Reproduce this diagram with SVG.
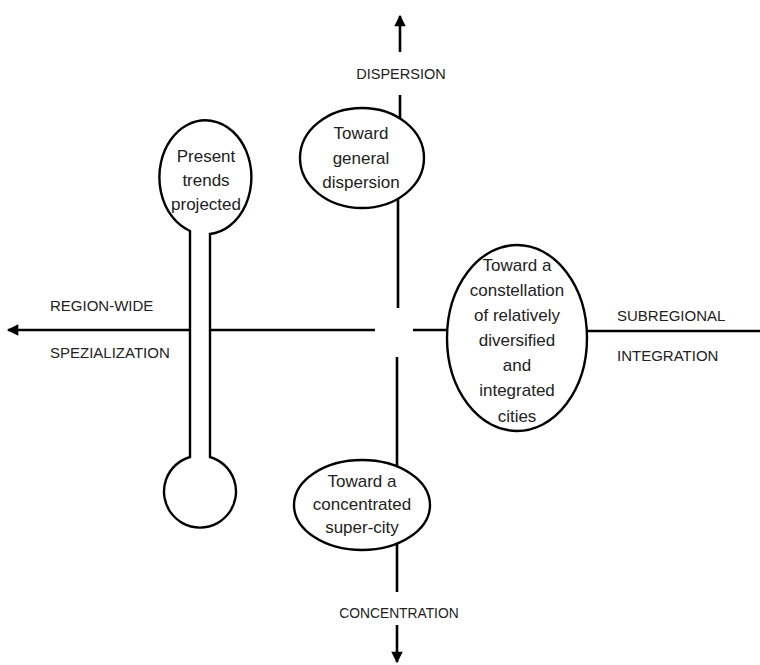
<svg xmlns="http://www.w3.org/2000/svg" width="760" height="665" viewBox="0 0 760 665">
<defs>
<marker id="ah" viewBox="0 0 10 10" refX="9" refY="5" markerWidth="5" markerHeight="4.4" orient="auto" markerUnits="strokeWidth">
<path d="M0,0 L10,5 L0,10 z" fill="#000"/>
</marker>
<style>
.ln{stroke:#000;stroke-width:2.6;fill:none}
.nd{stroke:#000;stroke-width:2.4;fill:#fff}
.t{font-family:"Liberation Sans","Open Sans",Arial,sans-serif;font-size:17px;fill:#222;text-anchor:middle}
.lb{font-family:"Liberation Sans","Open Sans",Arial,sans-serif;font-size:15px;fill:#222}
</style>
</defs>
<rect width="760" height="665" fill="#fff"/>
<g id="connectors">
<line class="ln" x1="400" y1="52" x2="400" y2="16" marker-end="url(#ah)"/>
<line class="ln" x1="400" y1="95" x2="400" y2="140"/>
<line class="ln" x1="398" y1="180" x2="398" y2="308"/>
<line class="ln" x1="397" y1="357" x2="397" y2="490"/>
<line class="ln" x1="397" y1="520" x2="397" y2="592"/>
<line class="ln" x1="397" y1="625" x2="397" y2="662" marker-end="url(#ah)"/>
<line class="ln" x1="190" y1="330" x2="8" y2="330" marker-end="url(#ah)"/>
<line class="ln" x1="210" y1="330" x2="375" y2="330"/>
<line class="ln" x1="413" y1="330" x2="480" y2="330"/>
<line class="ln" x1="550" y1="331" x2="760" y2="331"/>
</g>
<g id="axis-labels">
<text class="lb" x="401" y="79" text-anchor="middle" style="font-size:14.5px">DISPERSION</text>
<text class="lb" x="399" y="618" text-anchor="middle" style="font-size:13.8px">CONCENTRATION</text>
<text class="lb" x="50" y="311">REGION-WIDE</text>
<text class="lb" x="50" y="358">SPEZIALIZATION</text>
<text class="lb" x="617" y="321">SUBREGIONAL</text>
<text class="lb" x="617" y="361">INTEGRATION</text>
</g>
<g id="present-trends">
<path class="nd" d="M190,457 L190,231 A46,57 0 1 1 210,234 L210,457 A36,36 0 1 1 190,457 Z"/>
<text class="t" x="206" y="162">Present</text>
<text class="t" x="206" y="186">trends</text>
<text class="t" x="206" y="210">projected</text>
</g>
<g id="general-dispersion">
<ellipse class="nd" cx="362" cy="158" rx="62" ry="50"/>
<text class="t" x="361" y="139">Toward</text>
<text class="t" x="361" y="164">general</text>
<text class="t" x="361" y="188">dispersion</text>
</g>
<g id="constellation">
<ellipse class="nd" cx="517" cy="338" rx="70" ry="93"/>
<text class="t" x="517" y="271">Toward a</text>
<text class="t" x="517" y="296">constellation</text>
<text class="t" x="517" y="321">of relatively</text>
<text class="t" x="517" y="346">diversified</text>
<text class="t" x="517" y="371">and</text>
<text class="t" x="517" y="396">integrated</text>
<text class="t" x="517" y="422">cities</text>
</g>
<g id="super-city">
<ellipse class="nd" cx="362" cy="505" rx="68" ry="45"/>
<text class="t" x="362" y="487">Toward a</text>
<text class="t" x="362" y="510">concentrated</text>
<text class="t" x="362" y="533">super-city</text>
</g>
</svg>
